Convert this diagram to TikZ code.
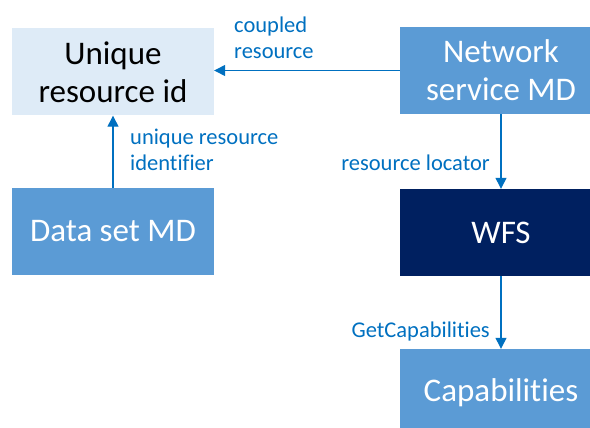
\documentclass[tikz,border=0pt]{standalone}
\usepackage{fontspec}
\setmainfont{Carlito}[Ligatures=NoCommon]
\usetikzlibrary{arrows.meta}

\definecolor{mdblue}{HTML}{5B9BD5}
\definecolor{idblue}{HTML}{DEEBF7}
\definecolor{wfsnavy}{HTML}{002060}
\definecolor{linkblue}{HTML}{0070C0}

\tikzset{
    mdbox/.style={fill=mdblue, text=white, minimum width=202pt, minimum height=87pt,
        align=center, inner sep=0pt, font=\fontsize{33}{38}\selectfont},
    idbox/.style={mdbox, fill=idblue, text=black},
    wfsbox/.style={mdbox, fill=wfsnavy},
    link/.style={draw=linkblue, line width=1.3pt, -{Triangle[length=11pt,width=11pt]}},
    linklabel/.style={text=linkblue, inner sep=0pt, align=left, font=\fontsize{22.5}{26}\selectfont}
}

\begin{document}
\begin{tikzpicture}[x=1pt,y=-1pt]
    \clip (0,0) rectangle (590,428);
    \useasboundingbox (0,0) rectangle (590,428);

    % Boxes
    \node[idbox]  (uid)  at (113,72)    {Unique\\resource id};
    \node[mdbox]  (nsmd) at (501,70.5)  {Network\\service MD};
    \node[mdbox]  (dsmd) at (113,231.5) {Data set MD};
    \node[wfsbox] (wfs)  at (501,232.5) {WFS};
    \node[mdbox]  (caps) at (501,392.5) {Capabilities};

    % Links
    \draw[link] (nsmd.west) -- (nsmd.west -| uid.east);
    \draw[link] (dsmd.north) -- (uid.south);
    \draw[link] (nsmd.south) -- (wfs.north);
    \draw[link] (wfs.south) -- (caps.north);

    % Link labels
    \node[linklabel, anchor=west]      (lblcoupled) at (234,38)  {coupled\\resource};
    \node[linklabel, anchor=west]      (lbluri)     at (130,150) {unique resource\\identifier};
    \node[linklabel, anchor=base east] (lblloc)     at (490,171) {resource locator};
    \node[linklabel, anchor=base east] (lblgetcap)  at (490,337) {GetCapabilities};
\end{tikzpicture}
\end{document}
